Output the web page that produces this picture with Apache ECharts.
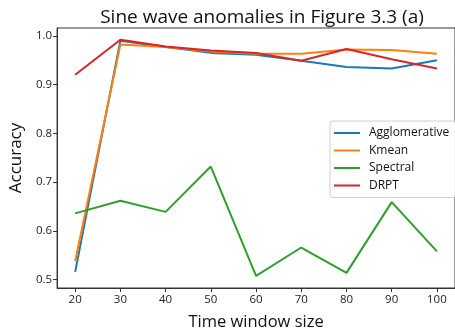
<!DOCTYPE html>
<html>
<head>
<meta charset="utf-8">
<script src="https://cdn.jsdelivr.net/npm/echarts@6/dist/echarts.min.js"></script>
<style>
  html, body { margin: 0; padding: 0; background: #fff; }
  #chart { width: 455px; height: 336px; }
</style>
</head>
<body>
<div id="chart"></div>
<script>
// Time window sizes (x axis)
const windowSizes = [20, 30, 40, 50, 60, 70, 80, 90, 100];

// Accuracy per method
const agglomerative = [0.516, 0.990, 0.977, 0.965, 0.961, 0.949, 0.936, 0.933, 0.950];
const kmean         = [0.538, 0.982, 0.977, 0.968, 0.963, 0.963, 0.972, 0.971, 0.963];
const spectral      = [0.636, 0.662, 0.639, 0.732, 0.508, 0.566, 0.514, 0.659, 0.558];
const drpt          = [0.920, 0.992, 0.978, 0.970, 0.965, 0.949, 0.973, 0.952, 0.933];

// Tick labels
const xTicks = [20, 30, 40, 50, 60, 70, 80, 90, 100];
const yTicks = [0.5, 0.6, 0.7, 0.8, 0.9, 1.0];

const names = ['Agglomerative', 'Kmean', 'Spectral', 'DRPT'];
const colors = ['#1f77b4', '#ff7f0e', '#2ca02c', '#d62728'];
const values = [agglomerative, kmean, spectral, drpt];

const font = '"Open Sans", "Noto Sans", sans-serif';

const chart = echarts.init(document.getElementById('chart'), null, { renderer: 'canvas' });

chart.setOption({
  animation: false,
  backgroundColor: '#fff',
  title: {
    text: 'Sine wave anomalies in Figure 3.3 (a)',
    left: 257,
    textAlign: 'center',
    top: 3,
    textStyle: { fontFamily: font, fontSize: 19, fontWeight: 'normal', color: '#111' }
  },
  grid: {
    left: 56, top: 28, width: 402, height: 262,
    show: true, borderColor: '#333', borderWidth: 1, backgroundColor: 'transparent'
  },
  legend: {
    data: names,
    orient: 'vertical',
    left: 330, top: 121,
    icon: 'rect',
    itemWidth: 26, itemHeight: 2,
    itemGap: 5.5,
    padding: [6, 6, 6, 4],
    backgroundColor: '#fff',
    borderColor: '#d0d0d0', borderWidth: 1, borderRadius: 3,
    textStyle: { fontFamily: font, fontSize: 12, color: '#111', padding: [0, 0, 0, 4] }
  },
  xAxis: {
    type: 'value',
    min: 16, max: 104,
    name: 'Time window size',
    nameLocation: 'middle',
    nameGap: 26,
    nameTextStyle: { fontFamily: font, fontSize: 16.5, color: '#111' },
    splitLine: { show: false },
    axisLine: { show: true, lineStyle: { color: '#333', width: 1 } },
    axisTick: { show: true, length: 4, inside: false, customValues: xTicks, lineStyle: { color: '#333' } },
    axisLabel: { customValues: xTicks, fontFamily: font, fontSize: 11.5, color: '#222', margin: 6 }
  },
  yAxis: {
    type: 'value',
    min: 0.483, max: 1.016,
    name: 'Accuracy',
    nameLocation: 'middle',
    nameRotate: 90,
    nameGap: 31,
    nameTextStyle: { fontFamily: font, fontSize: 17, color: '#111' },
    splitLine: { show: false },
    axisLine: { show: true, lineStyle: { color: '#333', width: 1 } },
    axisTick: { show: true, length: 4, inside: false, customValues: yTicks, lineStyle: { color: '#333' } },
    axisLabel: {
      customValues: yTicks, fontFamily: font, fontSize: 11.5, color: '#222', margin: 5,
      formatter: v => v.toFixed(1)
    }
  },
  series: names.map((n, i) => ({
    name: n,
    type: 'line',
    data: windowSizes.map((x, j) => [x, values[i][j]]),
    showSymbol: false,
    symbol: 'none',
    color: colors[i],
    lineStyle: { width: 2, color: colors[i] },
    z: 2 + i
  }))
});
</script>
</body>
</html>
